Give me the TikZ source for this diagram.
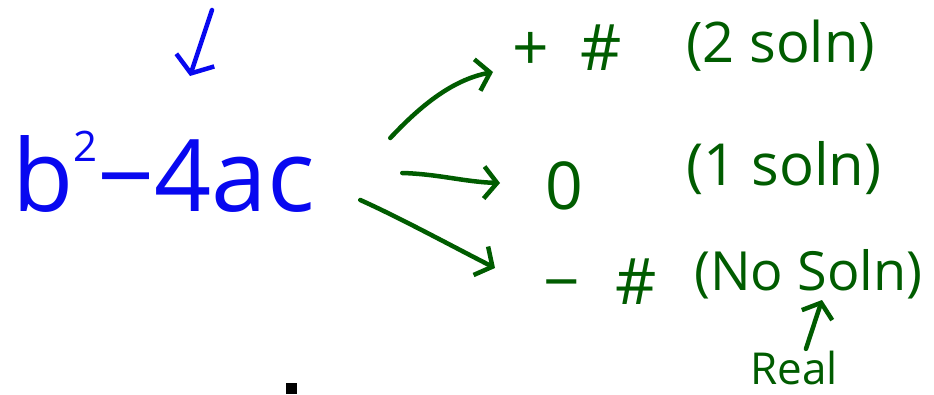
\documentclass[tikz,border=0pt]{standalone}
\usepackage{fontspec}
\setmainfont{Open Sans}
\usetikzlibrary{arrows.meta,calc}
\definecolor{inkblue}{RGB}{8,8,240}
\definecolor{inkgreen}{RGB}{0,92,0}
\tikzset{
  bluetext/.style={text=inkblue,inner sep=0pt,font=\fontsize{100}{102}\selectfont},
  greentext/.style={text=inkgreen,inner sep=0pt,anchor=west},
  arr/.style={draw=inkgreen,line width=4.5pt,line cap=round,line join=round,
    -{Straight Barb[length=13pt,width=32pt,line width=4.5pt]}},
  bluearr/.style={draw=inkblue,line width=4.5pt,line cap=round,line join=round,
    -{Straight Barb[length=14pt,width=40pt,line width=4.5pt]}}
}
\begin{document}
\begin{tikzpicture}[x=1pt,y=-1pt]
\useasboundingbox (0,0) rectangle (934,394);
% main expression
\node[bluetext,anchor=west] (bsq) at (12,172) {b\raisebox{0.5em}{\fontsize{42}{42}\selectfont 2}−4ac};
% tick arrow above
\coordinate (tickstart) at (212,10);
\coordinate (tickend) at (190,76);
\draw[bluearr] (tickstart) -- (tickend);
% right column
\node[greentext,font=\fontsize{64}{66}\selectfont] (pos) at (512,48) {+\hspace{0.5em}\#};
\node[greentext,font=\fontsize{56}{58}\selectfont] (posnote) at (686,46) {(2 soln)};
\node[greentext,font=\fontsize{66}{68}\selectfont] (zero) at (545,186) {0};
\node[greentext,font=\fontsize{58}{60}\selectfont] (zeronote) at (686,168) {(1 soln)};
\node[greentext,font=\fontsize{64}{66}\selectfont] (neg) at (543,282) {−\hspace{0.55em}\#};
\node[greentext,font=\fontsize{54}{56}\selectfont] (negnote) at (694,274) {(No Soln)};
\node[greentext,font=\fontsize{44}{46}\selectfont] (real) at (750,368) {Real};
% connectors
\draw[arr] ($(bsq.east)+(75,-34)$) .. controls ($(bsq.east)+(105,-66)$) and ($(pos.west)+(-60,32)$) .. ($(pos.west)+(-19,24)$);
\draw[arr] ($(bsq.east)+(87,1)$) .. controls ($(bsq.east)+(123,2)$) and ($(zero.west)+(-80,-4)$) .. ($(zero.west)+(-45,-3)$);
\draw[arr] ($(bsq.east)+(45,28)$) .. controls ($(bsq.east)+(85,46)$) and ($(neg.west)+(-95,-38)$) .. ($(neg.west)+(-48,-14)$);
\coordinate (realtip) at (822,300);
\draw[arr] ($(real.north)+(12,-2)$) -- (realtip);
% dot
\fill[black] (286,383) rectangle (297,394);
\end{tikzpicture}
\end{document}
